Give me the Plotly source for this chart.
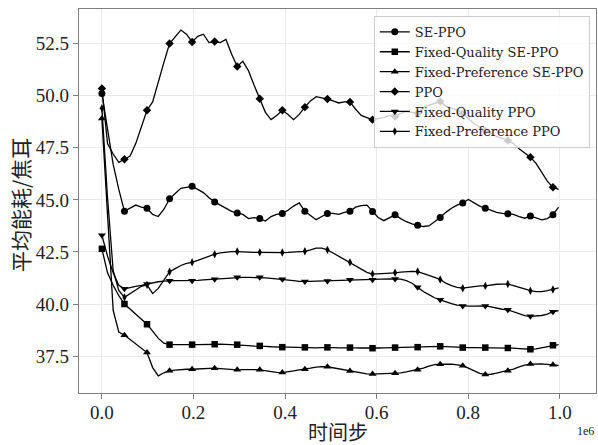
import plotly.graph_objects as go

# Training steps: one logged point every 12312.5 steps, markers on every 4th point
STEP = 12312.5
steps = [k * STEP for k in range(82)]
MARK_EVERY = 4

se_ppo = [
    50.10, 48.30, 46.70, 45.50, 44.45, 44.60, 44.75, 44.65, 44.60, 44.30,
    44.20, 44.55, 45.05, 45.30, 45.55, 45.60, 45.65, 45.50, 45.35, 45.10,
    44.90, 44.75, 44.60, 44.45, 44.37, 44.30, 44.10, 44.15, 44.10, 43.98,
    44.20, 44.30, 44.35, 44.50, 44.70, 44.85, 44.45, 44.25, 44.05, 44.20,
    44.35, 44.35, 44.30, 44.40, 44.45, 44.65, 44.72, 44.75, 44.44, 44.15,
    44.00, 44.15, 44.28, 44.10, 43.95, 43.85, 43.78, 43.72, 43.75, 43.95,
    44.15, 44.40, 44.60, 44.75, 44.85, 45.02, 44.85, 44.70, 44.60, 44.50,
    44.40, 44.35, 44.33, 44.30, 44.20, 44.12, 44.23, 44.15, 44.04, 44.10,
    44.28, 44.65,
]

fq_se_ppo = [
    42.65, 41.50, 40.90, 40.40, 40.00, 39.75, 39.50, 39.25, 39.03, 38.70,
    38.35, 38.12, 38.05, 38.05, 38.06, 38.05, 38.05, 38.05, 38.06, 38.07,
    38.07, 38.07, 38.06, 38.05, 38.05, 38.03, 38.00, 37.98, 37.99, 37.97,
    37.95, 37.93, 37.93, 37.93, 37.92, 37.92, 37.92, 37.91, 37.90, 37.91,
    37.92, 37.91, 37.90, 37.91, 37.91, 37.90, 37.89, 37.88, 37.88, 37.89,
    37.90, 37.91, 37.91, 37.92, 37.93, 37.93, 37.93, 37.94, 37.96, 37.97,
    37.97, 37.96, 37.94, 37.92, 37.91, 37.91, 37.91, 37.91, 37.91, 37.91,
    37.90, 37.90, 37.89, 37.88, 37.86, 37.84, 37.83, 37.85, 37.90, 37.96,
    38.02, 38.05,
]

fp_se_ppo = [
    48.90, 44.20, 39.70, 38.65, 38.50, 38.30, 38.10, 37.90, 37.67, 36.95,
    36.55, 36.70, 36.80, 36.83, 36.86, 36.87, 36.87, 36.89, 36.91, 36.92,
    36.92, 36.90, 36.87, 36.85, 36.84, 36.85, 36.86, 36.85, 36.84, 36.80,
    36.75, 36.72, 36.71, 36.74, 36.79, 36.84, 36.87, 36.92, 36.97, 37.00,
    36.99, 36.94, 36.88, 36.82, 36.79, 36.73, 36.68, 36.65, 36.64, 36.65,
    36.66, 36.67, 36.68, 36.70, 36.74, 36.79, 36.84, 36.92, 37.02, 37.09,
    37.11, 37.13, 37.12, 37.08, 37.04, 36.92, 36.78, 36.67, 36.62, 36.63,
    36.68, 36.75, 36.80, 36.88, 36.98, 37.07, 37.12, 37.14, 37.13, 37.10,
    37.08, 37.05,
]

ppo = [
    50.35, 47.70, 47.20, 46.80, 46.95, 47.10, 47.70, 48.45, 49.30, 49.70,
    50.70, 51.60, 52.50, 52.80, 53.15, 52.95, 52.58, 52.85, 52.95, 52.55,
    52.60, 52.55, 52.70, 52.00, 51.40, 51.65, 51.20, 50.50, 49.85, 49.20,
    48.85, 49.05, 49.30, 49.10, 48.85, 49.10, 49.45, 49.75, 49.95, 49.90,
    49.84, 49.75, 49.65, 49.70, 49.70, 49.35, 49.05, 48.95, 48.85, 48.90,
    48.95, 49.05, 49.00, 49.15, 49.23, 49.20, 49.15, 49.45, 49.55, 49.65,
    49.72, 49.50, 49.40, 49.30, 49.15, 48.90, 48.65, 48.50, 48.30, 48.20,
    48.05, 47.95, 47.85, 47.70, 47.45, 47.25, 47.05, 46.75, 46.30, 45.90,
    45.60, 45.50,
]

fq_ppo = [
    43.30, 42.30, 41.50, 40.90, 40.73, 40.80, 40.85, 40.90, 40.96, 41.02,
    41.07, 41.10, 41.12, 41.12, 41.12, 41.12, 41.12, 41.14, 41.16, 41.18,
    41.19, 41.22, 41.25, 41.27, 41.28, 41.28, 41.28, 41.28, 41.28, 41.26,
    41.23, 41.21, 41.19, 41.16, 41.12, 41.09, 41.08, 41.09, 41.10, 41.11,
    41.11, 41.12, 41.14, 41.15, 41.16, 41.16, 41.16, 41.16, 41.17, 41.18,
    41.20, 41.21, 41.20, 41.20, 41.12, 41.00, 40.80, 40.60, 40.45, 40.30,
    40.20, 40.10, 40.02, 39.95, 39.91, 39.90, 39.90, 39.91, 39.91, 39.86,
    39.80, 39.75, 39.72, 39.62, 39.52, 39.44, 39.41, 39.42, 39.45, 39.52,
    39.63, 39.68,
]

fp_ppo = [
    49.40, 45.10, 41.60, 40.65, 40.32, 40.50, 40.70, 40.85, 40.92, 40.50,
    40.75, 41.15, 41.55, 41.70, 41.85, 41.95, 42.00, 42.10, 42.20, 42.30,
    42.39, 42.45, 42.50, 42.52, 42.52, 42.50, 42.49, 42.48, 42.48, 42.47,
    42.47, 42.47, 42.47, 42.48, 42.49, 42.50, 42.53, 42.60, 42.68, 42.68,
    42.60, 42.45, 42.30, 42.15, 42.00, 41.85, 41.68, 41.52, 41.44, 41.45,
    41.48, 41.50, 41.50, 41.53, 41.56, 41.57, 41.56, 41.48, 41.38, 41.28,
    41.18, 41.00, 40.88, 40.80, 40.76, 40.80, 40.84, 40.87, 40.87, 40.92,
    40.95, 40.96, 40.96, 40.88, 40.80, 40.70, 40.64, 40.60, 40.60, 40.64,
    40.70, 40.78,
]

series_names = [
    "SE-PPO",
    "Fixed-Quality SE-PPO",
    "Fixed-Preference SE-PPO",
    "PPO",
    "Fixed-Quality PPO",
    "Fixed-Preference PPO",
]
series_values = [se_ppo, fq_se_ppo, fp_se_ppo, ppo, fq_ppo, fp_ppo]
series_symbols = ["circle", "square", "triangle-up", "diamond", "triangle-down", "diamond-tall"]
series_sizes = [7, 6.5, 7, 6.5, 7, 6]

x_ticks = [0, 200000, 400000, 600000, 800000, 1000000]
x_tick_text = ["0.0", "0.2", "0.4", "0.6", "0.8", "1.0"]
y_ticks = [37.5, 40.0, 42.5, 45.0, 47.5, 50.0, 52.5]
y_tick_text = ["37.5", "40.0", "42.5", "45.0", "47.5", "50.0", "52.5"]

INK = "black"
SERIF = "Liberation Serif, DejaVu Serif, serif"
LEGEND_FONT = "DejaVu Serif, Liberation Serif, serif"
CJK = "Noto Sans CJK SC, sans-serif"

fig = go.Figure()

for name, vals, sym, size in zip(series_names, series_values, series_symbols, series_sizes):
    # full curve
    fig.add_trace(go.Scatter(
        x=steps, y=vals, mode="lines",
        line=dict(color=INK, width=1.3),
        showlegend=False, hoverinfo="skip",
    ))
    # markers on every 4th logged point
    fig.add_trace(go.Scatter(
        x=steps[::MARK_EVERY], y=vals[::MARK_EVERY], mode="markers",
        marker=dict(symbol=sym, size=size, color=INK, line=dict(width=0)),
        showlegend=False, hoverinfo="skip",
    ))

# legend entries (line + marker)
for name, sym, size in zip(series_names, series_symbols, series_sizes):
    fig.add_trace(go.Scatter(
        x=[None], y=[None], mode="lines+markers", name=name,
        line=dict(color=INK, width=1.3),
        marker=dict(symbol=sym, size=size, color=INK, line=dict(width=0)),
    ))

axis_common = dict(
    showgrid=True, gridcolor="#ebebeb", gridwidth=1,
    showline=True, linecolor="#808080", linewidth=1.2, mirror=True,
    ticks="outside", ticklen=5, tickwidth=1, tickcolor="#808080",
    tickfont=dict(family=SERIF, size=19, color="#222222"),
    zeroline=False,
)

fig.update_xaxes(
    range=[-50000, 1079000], tickvals=x_ticks, ticktext=x_tick_text,
    ticklabelstandoff=-3, **axis_common
)
fig.update_yaxes(
    range=[35.73, 54.16], tickvals=y_ticks, ticktext=y_tick_text, **axis_common
)

fig.update_layout(
    width=598, height=445,
    margin=dict(l=79, r=2, t=9, b=52),
    paper_bgcolor="white", plot_bgcolor="white",
    showlegend=True,
    legend=dict(
        x=0.988, y=0.982, xanchor="right", yanchor="top",
        bgcolor="rgba(255,255,255,0.8)", bordercolor="#cccccc", borderwidth=1,
        font=dict(family=LEGEND_FONT, size=13, color="#222222"),
        itemwidth=30,
    ),
    annotations=[
        dict(text="时间步", xref="paper", yref="paper", x=0.5, y=-0.099,
             xanchor="center", yanchor="middle", showarrow=False,
             font=dict(family=CJK, size=20, color="#222222")),
        dict(text="平均能耗/焦耳", xref="paper", yref="paper", x=-0.114, y=0.49,
             xanchor="center", yanchor="middle", textangle=-90, showarrow=False,
             font=dict(family=CJK, size=21, color="#222222")),
        dict(text="1e6", xref="paper", yref="paper", x=1.0, y=-0.098,
             xanchor="right", yanchor="middle", showarrow=False,
             font=dict(family=SERIF, size=12, color="#222222")),
    ],
)

fig.write_html("out.html")
